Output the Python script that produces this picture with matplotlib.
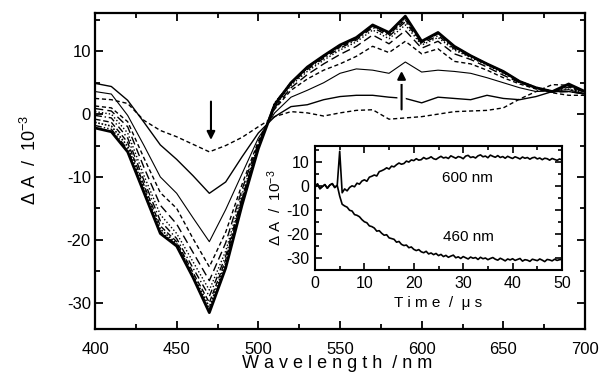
import numpy as np
import matplotlib
matplotlib.use("Agg")
import matplotlib.pyplot as plt
from matplotlib.ticker import MultipleLocator
import matplotlib.patheffects as pe

plt.rcParams['font.family'] = ['Liberation Sans', 'DejaVu Sans']
plt.rcParams['mathtext.fontset'] = 'custom'
plt.rcParams['mathtext.rm'] = 'Liberation Sans'
plt.rcParams['mathtext.it'] = 'Liberation Sans'
plt.rcParams['axes.unicode_minus'] = False

# ---------------- data ----------------
wavelength = [400, 410, 420, 430, 440, 450, 460, 470, 480, 490, 500, 510, 520, 530, 540,
              550, 560, 570, 580, 590, 600, 610, 620, 630, 640, 650, 660, 670, 680, 690, 700]

c1 = [2.5, 2.3, 1.7, -1.0, -2.6, -3.6, -4.8, -6.0, -5.0, -3.7, -2.0, -0.4, 0.4, 0.2, -0.3,
      0.2, 0.6, 0.7, -0.8, -0.6, -0.4, 0.0, 0.4, 0.5, 0.6, 1.0, 2.4, 3.6, 4.7, 4.6, 3.0]
c2 = [4.9, 4.4, 2.2, -1.3, -4.9, -7.2, -9.8, -12.6, -10.8, -6.8, -3.0, -0.4, 1.2, 1.5, 2.3,
      2.8, 3.0, 3.0, 2.7, 2.5, 1.8, 2.7, 2.5, 2.3, 3.0, 2.5, 2.3, 2.8, 3.6, 3.6, 3.2]
c3 = [3.6, 3.2, -0.2, -5.0, -10.0, -12.6, -16.5, -20.3, -15.2, -9.5, -3.8, 0.2, 2.7, 3.8, 5.0,
      6.5, 7.2, 7.0, 6.5, 8.3, 6.7, 7.0, 6.8, 6.5, 5.8, 5.0, 4.2, 3.6, 3.7, 3.9, 3.2]
c4 = [1.3, 1.0, -1.2, -7.0, -12.5, -15.0, -19.8, -24.3, -18.8, -11.2, -4.3, 0.8, 3.8, 5.6, 7.0,
      8.0, 9.2, 10.8, 9.8, 11.6, 9.6, 10.4, 8.4, 8.0, 7.0, 5.8, 4.8, 4.0, 3.4, 3.0, 3.0]
c5 = [0.9, 0.5, -2.0, -8.5, -14.5, -17.5, -22.0, -26.5, -20.5, -12.0, -4.6, 1.0, 4.2, 6.3, 8.0,
      9.5, 10.8, 12.6, 11.2, 13.3, 10.5, 11.6, 9.6, 8.7, 7.5, 6.2, 5.0, 4.2, 3.5, 3.6, 3.2]
c6 = [0.4, 0.0, -3.0, -9.8, -16.0, -19.0, -23.5, -28.0, -21.8, -12.8, -4.8, 1.2, 4.6, 6.8, 8.6,
      10.2, 11.5, 13.4, 12.0, 14.2, 11.0, 12.2, 10.2, 9.0, 7.8, 6.5, 5.2, 4.3, 3.6, 4.0, 3.4]
c7 = [-0.2, -0.6, -3.8, -10.6, -17.0, -19.8, -24.5, -29.0, -22.6, -13.3, -5.0, 1.4, 4.8, 7.1, 8.9,
      10.5, 11.8, 13.8, 12.4, 14.7, 11.2, 12.5, 10.4, 9.1, 7.9, 6.6, 5.1, 4.2, 3.6, 4.3, 3.5]
c8 = [-0.8, -1.3, -4.5, -11.3, -17.8, -20.3, -25.2, -30.0, -23.2, -13.6, -5.2, 1.6, 4.9, 7.3, 9.1,
      10.7, 12.0, 14.0, 12.7, 15.0, 11.4, 12.8, 10.6, 9.2, 8.0, 6.7, 5.2, 4.2, 3.6, 4.5, 3.5]
c9 = [-1.3, -1.9, -5.1, -11.8, -18.3, -20.6, -25.6, -30.7, -23.7, -13.8, -5.3, 1.7, 5.0, 7.4, 9.2,
      10.9, 12.1, 14.1, 12.8, 15.3, 11.5, 12.9, 10.7, 9.3, 8.0, 6.8, 5.2, 4.2, 3.6, 4.6, 3.6]
c10 = [-1.8, -2.4, -5.6, -12.2, -18.7, -20.8, -25.9, -31.2, -24.2, -14.0, -5.4, 1.8, 5.0, 7.5, 9.3,
       11.0, 12.2, 14.2, 12.9, 15.5, 11.6, 13.0, 10.8, 9.3, 8.0, 6.8, 5.2, 4.2, 3.6, 4.7, 3.6]
c11 = [-2.2, -2.8, -6.0, -12.5, -19.0, -21.0, -26.0, -31.6, -24.5, -14.5, -5.5, 1.5, 5.0, 7.5, 9.3,
       11.0, 12.2, 14.2, 13.0, 15.6, 11.6, 13.0, 10.8, 9.3, 8.0, 6.8, 5.2, 4.2, 3.6, 4.8, 3.6]

spectra = [c1, c2, c3, c4, c5, c6, c7, c8, c9, c10, c11]

# kinetic traces (inset), sampled every 0.5 us
pre_trigger = [-0.5, 0.9, -1.1, -0.2, 0.6, -0.9, 0.4, 1.0, -0.6, 0.3]          # 0 .. 4.5 us
trace_600 = [14.5, -2.8, -1.2, -2.0, -0.6, 0.1, -0.3, 1.2, 0.8, 2.1,
             2.6, 2.0, 3.7, 4.1, 4.6, 4.2, 6.0, 6.4, 6.9, 7.6,
             7.1, 8.3, 8.0, 8.9, 9.6, 9.1, 9.4, 10.4, 10.0, 10.9,
             10.6, 11.4, 10.8, 11.0, 11.9, 11.3, 11.6, 12.2, 11.4, 11.1,
             11.8, 12.4, 11.7, 12.0, 11.5, 12.6, 12.1, 11.6, 12.3, 12.0,
             11.4, 12.5, 12.8, 11.9, 12.2, 11.7, 12.6, 13.0, 12.2, 12.5,
             11.8, 12.9, 12.4, 12.0, 12.7, 11.9, 12.3, 11.6, 12.4, 11.9,
             11.5, 12.2, 11.8, 11.3, 12.1, 11.6, 11.9, 11.2, 11.8, 12.0,
             11.3, 11.7, 11.0, 11.6, 11.4, 10.8, 11.5, 11.1, 10.7, 11.3,
             10.9]                                                              # 5.0 .. 50 us
trace_460 = [-4.2, -7.6, -8.3, -8.8, -10.1, -10.4, -11.9, -12.2, -12.8, -14.0,
             -14.9, -15.3, -16.6, -16.9, -17.5, -18.8, -18.6, -19.7, -20.5, -20.3,
             -21.6, -21.9, -22.2, -23.4, -23.1, -24.3, -24.8, -24.6, -25.7, -25.4,
             -26.4, -26.9, -26.5, -27.4, -27.8, -27.2, -28.3, -27.9, -28.6, -28.1,
             -29.0, -28.5, -29.4, -28.9, -29.7, -29.2, -28.8, -29.9, -29.5, -30.2,
             -29.4, -29.9, -30.4, -29.6, -30.1, -29.8, -30.6, -29.7, -30.3, -30.0,
             -30.7, -30.2, -29.8, -30.5, -30.9, -30.1, -30.6, -31.2, -30.4, -30.8,
             -30.3, -31.0, -30.6, -30.2, -31.3, -30.7, -30.9, -31.4, -30.5, -30.8,
             -31.1, -30.4, -30.9, -31.5, -30.6, -30.8, -31.2, -30.5, -31.0, -30.7,
             -30.6]                                                             # 5.0 .. 50 us

t_pre = np.arange(len(pre_trigger)) * 0.5
t_post = 5.0 + np.arange(len(trace_600)) * 0.5

# ---------------- styles ----------------
styles = [
    dict(ls=(0, (3, 2)), lw=1.0),
    dict(ls='-', lw=1.0),
    dict(ls='-', lw=0.8),
    dict(ls=(0, (3, 2)), lw=1.0),
    dict(ls=(0, (6, 3)), lw=1.0),
    dict(ls=(0, (1, 1.5)), lw=1.0),
    dict(ls=(0, (5, 2, 1, 2)), lw=1.0),
    dict(ls=(0, (4, 2)), lw=1.0),
    dict(ls=(0, (1, 1)), lw=1.2),
    dict(ls=(0, (5, 1.5, 1, 1.5, 1, 1.5)), lw=1.0),
    dict(ls='-', lw=2.0),
]

fig = plt.figure(figsize=(6.01, 3.87), dpi=100)
ax = fig.add_axes([95/601, 1-329/387, 490/601, 316/387])

for y, st in zip(spectra, styles):
    ax.plot(wavelength, y, color='black', linestyle=st['ls'], linewidth=st['lw'])

ax.set_xlim(400, 700)
ax.set_ylim(-34.2, 16.1)
ax.xaxis.set_major_locator(MultipleLocator(50))
ax.xaxis.set_minor_locator(MultipleLocator(25))
ax.yaxis.set_major_locator(MultipleLocator(10))
ax.yaxis.set_minor_locator(MultipleLocator(5))
ax.tick_params(which='both', direction='in', top=True, right=True, width=1.3)
ax.tick_params(which='major', length=6)
ax.tick_params(which='minor', length=3.5)
ax.tick_params(axis='x', labelsize=12, pad=9)
ax.tick_params(axis='y', labelsize=12, pad=3)
for s in ax.spines.values():
    s.set_linewidth(1.6)

# arrows
ax.annotate('', xy=(471, -4.1), xytext=(471, 2.0),
            arrowprops=dict(arrowstyle='-|>', color='black', lw=1.5, mutation_scale=12,
                            shrinkA=0, shrinkB=0))
ax.annotate('', xy=(587.7, 6.9), xytext=(587.7, 0.75),
            arrowprops=dict(arrowstyle='-|>', color='black', lw=1.5, mutation_scale=12,
                            shrinkA=0, shrinkB=0,
                            path_effects=[pe.withStroke(linewidth=6, foreground='white')]))

fig.text(30/601, 1-160/387, 'Δ A  /  10$^{-3}$', rotation=90, ha='center', va='center', fontsize=13)
fig.text(337/601, 1-364/387, 'W a v e l e n g t h  / n m', ha='center', va='center', fontsize=13)

# ---------------- inset ----------------
ins = fig.add_axes([315/601, 1-270/387, 247/601, 124/387])
ins.plot(np.concatenate([t_pre, t_post]), pre_trigger + trace_600, color='black', lw=1.2)
ins.plot(np.concatenate([t_pre, t_post]), pre_trigger + trace_460, color='black', lw=1.2)
ins.set_xlim(0, 50)
ins.set_ylim(-35, 16.7)
ins.xaxis.set_major_locator(MultipleLocator(10))
ins.xaxis.set_minor_locator(MultipleLocator(5))
ins.yaxis.set_major_locator(MultipleLocator(10))
ins.yaxis.set_minor_locator(MultipleLocator(5))
ins.tick_params(which='both', direction='in', top=True, right=True, width=1.2)
ins.tick_params(which='major', length=5)
ins.tick_params(which='minor', length=3)
ins.tick_params(axis='both', labelsize=11.5, pad=4)
for s in ins.spines.values():
    s.set_linewidth(1.5)
ins.text(30.8, 3.3, '600 nm', ha='center', va='center', fontsize=11)
ins.text(31.0, -21.4, '460 nm', ha='center', va='center', fontsize=11)
fig.text(438/601, 1-303/387, 'T i m e  /  μ s', ha='center', va='center', fontsize=11)
fig.text(275/601, 1-208/387, 'Δ A  /  10$^{-3}$', rotation=90, ha='center', va='center', fontsize=11)

fig.savefig('out.png', dpi=100)
